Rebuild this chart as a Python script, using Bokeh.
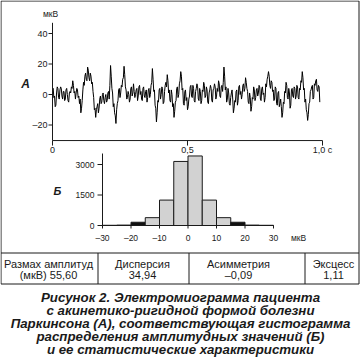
import math
import numpy as np
from bokeh.plotting import figure
from bokeh.models import ColumnDataSource, Range1d
from bokeh.embed import file_html
from bokeh.resources import INLINE
from bokeh.core.properties import value

FONT = "Liberation Sans"
INK = "#1a1a1a"

# ---------------- data ----------------
emg_sample_step = 0.0025  # seconds between samples
emg_uv = [
    3, 4, -2, -1, -8, -7, 1, 5, 4, -2, -3, 3, 5, 4, -1, -3, 2, 2, -4, -3,
    3, 4, 0, -4, -5, 1, 2, 1, 5, 4, 9, 6, 1, 2, -3, 1, 4, 3, -2, -1,
    -6, -3, -12, -9, -4, 3, 8, 6, 12, 14, 10, 9, 18, 16, 11, 9, 14, 12, 7, 8,
    2, -2, -10, -9, -15, -10, -8, -6, -12, -9, -3, -1, -6, -5, 0, 1, -4, -6, -2, 0,
    -5, -4, 1, 2, -3, 6, 19, 12, 4, 1, -8, -6, -12, -14, -19, -10, -6, -4, 3, 4,
    -2, 1, 6, 5, 10, 11, 18.5, 13, 5, 3, -3, -2, 2, 0, -5, -3, 4, 5, -1, 1,
    7, 2, -2, 0, 3, 4, -4, -1, 5, 6, 0, 2, -3, -4, 4, 5, -1, -2, 2, 3,
    -5, -2, 3, 4, -2, 0, 6, 8, 17, 10, 2, 3, -7, -9, -18, -12, -4, -5, 3, 4,
    -3, 0, 5, 4, -6, -5, 2, 6, 8, 5, 13, 9, 1, 3, -4, -5, 3, 0, -8, -6,
    -15, -11, -5, -4, 4, 5, -2, 0, 7, 9, 15, 12, 3, 4, -6, -7, 2, 3, -4, -2,
    -10, -8, -3, -1, 5, 6, -1, -2, 6, 4, -4, -5, 2, 4, 7, 5, -3, -4, 4, 2,
    -6, -4, 3, 2, 8, 6, -2, -1, 5, 3, -5, -6, 1, 3, 6, 4, -4, -5, 3, 4,
    7, 5, -3, -1, 4, 2, 9, 7, -1, -2, 5, 6, 2, 8, 18, 12, 3, 5, -5, -3,
    4, 1, -6, -7, -2, 1, 3, -3, -12, -9, -4, -5, 2, 3, -7, -4, 5, 6, 0, 2,
    -3, 0, 6, 7, 2, 4, 11, 8, 4, 2, -5, -6, 1, -2, -11, -8, -2, -3, 5, 3,
    -4, -2, 3, 4, -1, 1, 6, 5, -3, -4, 4, 5, 0, 1, -5, -2, 7, 5, 10, 12,
    15, 12, 6, 4, 9, 8, 2, 3, -4, -3, 5, 4, -6, -7, 1, 2, -8, -6, -3, -8,
    -15, -12, -5, -6, 2, 1, 8, 6, -2, -3, 4, 1, -9, -7, 3, 4, -1, -2, 5, 4,
    -3, -1, 6, 5, -2, -3, 4, 3, 9, 8, 15, 11, 3, 4, -5, -3, -10, -12, -17, -13,
    -6, -5, 2, 3, 5, 6, -3, -2, 7, 6, 9, 10, 3, 2, 6, 5, -5,
]
emg_t_lim = [0.0, 1.0]
emg_v_lim = [-30.2, 47.0]
emg_y_ticks = [-20, 0, 20, 40]
emg_t_ticks = [0, 0.5, 1.0]
emg_t_labels = ["0", "0,5", "1,0 с"]

hist_left = [-30, -25, -20, -15, -10, -5, 0, 5, 10, 15, 20, 25]
hist_counts = [10, 20, 160, 385, 1250, 3150, 3420, 1250, 385, 160, 20, 10]
hist_width = 5
hist_dark = [False, False, True, False, False, False, False, False, False, True, False, False]
hist_x_lim = [-30, 30]
hist_y_lim = [0, 3540]
hist_y_ticks = [0, 1500, 3000]
hist_x_ticks = [-30, -20, -10, 0, 10, 20, 30]

stat_titles = ["Размах амплитуд", "Дисперсия", "Асимметрия", "Эксцесс"]
stat_prefix = ["(мкВ) ", "", "", ""]
stat_values = [55.60, 34.94, -0.09, 1.11]

caption_lines = [
    "Рисунок 2. Электромиограмма пациента",
    "с акинетико-ригидной формой болезни",
    "Паркинсона (А), соответствующая гистограмма",
    "распределения амплитудных значений (Б)",
    "и ее статистические характеристики",
]

# ---------------- layout (pixels of the page) ----------------
W, H = 360, 361
A_X = (52, 322)        # px of t = 0 and t = 1
A_Y = (94, 63.5)       # px of 0 and 20 uV
B_X = (102, 273)       # px of -30 and 30 uV
B_Y = (225, 194.5)     # px of 0 and 1500 counts


def dash(v):
    s = f"{v:g}".replace(".", ",")
    return s.replace("-", "\u2013")


def xr(v0, v1, p0, p1):
    k = (v1 - v0) / (p1 - p0)
    return Range1d(start=v0 + (0 - p0) * k, end=v0 + (W - p0) * k)


def yr(v0, v1, p0, p1):
    k = (v1 - v0) / (p1 - p0)
    return Range1d(start=v0 + (H - p0) * k, end=v0 + (0 - p0) * k)


p = figure(width=W, height=H, x_range=Range1d(0, W), y_range=Range1d(H, 0),
           x_axis_location=None, y_axis_location=None, min_border=0,
           output_backend="svg", toolbar_location=None)
p.grid.visible = False
p.outline_line_color = None
p.background_fill_color = "white"
p.border_fill_color = "white"
p.extra_x_ranges = {"ta": xr(0, 1, *A_X), "hb": xr(-30, 30, *B_X)}
p.extra_y_ranges = {"va": yr(0, 20, *A_Y), "cb": yr(0, 1500, *B_Y)}


def txt(xs, ys, texts, size, align="center", style="normal", xo=0, yo=0, xn=None, yn=None):
    kw = {}
    if xn:
        kw["x_range_name"] = xn
    if yn:
        kw["y_range_name"] = yn
    p.text(x=xs, y=ys, text=texts, text_font=value(FONT), text_font_size=size,
           text_font_style=style, text_color=INK, text_align=align,
           text_baseline="middle", x_offset=xo, y_offset=yo, **kw)


# ---------------- frame and table ----------------
p.segment(x0=[0.5, 358.5, 0.5, 0.5, 0.5], y0=[0.5, 0.5, 0.5, 283.5, 252.5],
          x1=[0.5, 358.5, 358.5, 358.5, 358.5], y1=[283.5, 283.5, 0.5, 283.5, 252.5],
          line_color=INK, line_width=1)
div_x = [97.5, 188.5, 304.5]
p.segment(x0=div_x, y0=[252.5] * 3, x1=div_x, y1=[283.5] * 3, line_color=INK, line_width=1)
cell_cx = [48, 142, 238, 333]
val_txt = [pre + f"{v:.2f}".replace(".", ",").replace("-", "\u2013")
           for pre, v in zip(stat_prefix, stat_values)]
txt(cell_cx, [263] * 4, stat_titles, "11px")
txt(cell_cx, [274.5] * 4, val_txt, "11px")

# ---------------- caption ----------------
txt([180] * len(caption_lines), [297 + 13 * i for i in range(len(caption_lines))],
    caption_lines, "13.3px", style="bold italic")

# ---------------- A: EMG ----------------
emg_t = np.arange(len(emg_uv)) * emg_sample_step
p.line(emg_t, emg_uv, line_color="black", line_width=1, x_range_name="ta", y_range_name="va")
p.segment(x0=[emg_t_lim[0], emg_t_lim[0]], y0=[emg_v_lim[0], emg_v_lim[0]],
          x1=[emg_t_lim[0], emg_t_lim[1]], y1=[emg_v_lim[1], emg_v_lim[0]],
          line_color=INK, line_width=1, x_range_name="ta", y_range_name="va")
p.ray(x=[0] * len(emg_y_ticks), y=emg_y_ticks, length=4, length_units="screen", angle=math.pi,
      line_color=INK, line_width=1, x_range_name="ta", y_range_name="va")
p.ray(x=emg_t_ticks, y=[emg_v_lim[0]] * 3, length=5, length_units="screen", angle=-math.pi / 2,
      line_color=INK, line_width=1, x_range_name="ta", y_range_name="va")
txt([0] * len(emg_y_ticks), emg_y_ticks, [dash(v) for v in emg_y_ticks], "9px",
    align="right", xo=-5, xn="ta", yn="va")
txt(emg_t_ticks, [emg_v_lim[0]] * 3, emg_t_labels, "9px", yo=9, xn="ta", yn="va")
txt([50], [13], ["мкВ"], "8.5px")
txt([25], [83], ["А"], "12px", style="bold italic")

# ---------------- B: histogram ----------------
src_h = ColumnDataSource(dict(
    left=hist_left,
    right=[l + hist_width for l in hist_left],
    top=hist_counts,
    bottom=[0] * len(hist_counts),
    color=["#111111" if d else "#d2d2d2" for d in hist_dark],
))
p.quad(left="left", right="right", top="top", bottom="bottom", source=src_h,
       fill_color="color", line_color=INK, line_width=1, x_range_name="hb", y_range_name="cb")
p.segment(x0=[hist_x_lim[0], hist_x_lim[0]], y0=[hist_y_lim[0], hist_y_lim[0]],
          x1=[hist_x_lim[0], hist_x_lim[1]], y1=[hist_y_lim[1], hist_y_lim[0]],
          line_color=INK, line_width=1, x_range_name="hb", y_range_name="cb")
p.ray(x=[hist_x_lim[0]] * 3, y=hist_y_ticks, length=5, length_units="screen", angle=math.pi,
      line_color=INK, line_width=1, x_range_name="hb", y_range_name="cb")
p.ray(x=hist_x_ticks, y=[0] * len(hist_x_ticks), length=3, length_units="screen",
      angle=-math.pi / 2, line_color=INK, line_width=1, x_range_name="hb", y_range_name="cb")
txt([hist_x_lim[0]] * 3, hist_y_ticks, [dash(v) for v in hist_y_ticks], "8.5px",
    align="right", xo=-8, xn="hb", yn="cb")
txt(hist_x_ticks, [0] * len(hist_x_ticks), [dash(v) for v in hist_x_ticks], "8.5px",
    yo=12, xn="hb", yn="cb")
txt([298], [237], ["мкВ"], "8.5px")
txt([57], [190], ["Б"], "11px", style="bold italic")

open("out.html", "w").write(file_html(p, INLINE))
